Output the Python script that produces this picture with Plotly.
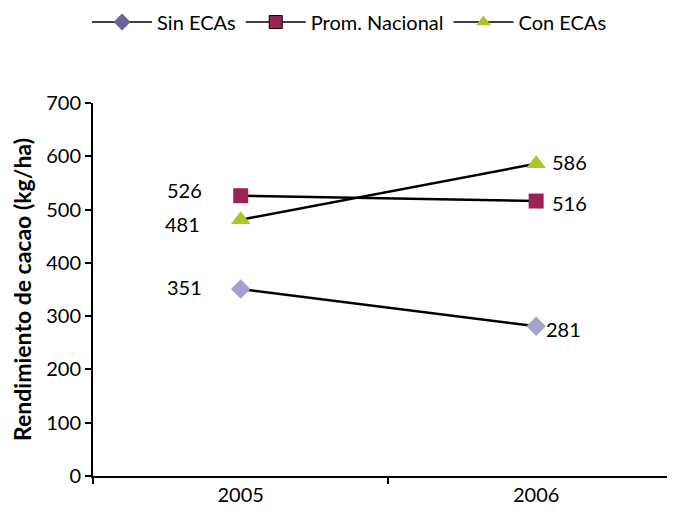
import plotly.graph_objects as go

years = ["2005", "2006"]
sin_ecas = [351, 281]
prom_nacional = [526, 516]
con_ecas = [481, 586]
y_ticks = [0, 100, 200, 300, 400, 500, 600, 700]

FONT = "Lato"

series = [
    ("Sin ECAs", sin_ecas, "diamond", "#A4A1CF", "#6B63A0", 15),
    ("Prom. Nacional", prom_nacional, "square", "#9B2257", "#9B2257", 15),
    ("Con ECAs", con_ecas, "triangle-up", "#A8C828", "#A8C828", 17),
]

fig = go.Figure()
for name, vals, sym, col, legcol, size in series:
    fig.add_trace(go.Scatter(
        x=years, y=vals, mode="lines+markers", name=name, showlegend=False,
        line=dict(color="black", width=2.5),
        marker=dict(symbol=sym, color=col, size=size),
    ))
for name, vals, sym, col, legcol, size in series:
    fig.add_trace(go.Scatter(
        x=[None], y=[None], mode="lines+markers", name=name,
        line=dict(color="black", width=1.5),
        marker=dict(symbol=sym, color=legcol, size=13,
                    line=dict(color="black", width=1) if sym == "square" else dict(width=0)),
    ))

# data labels
offsets = {
    ("Sin ECAs", 0): (-56, 2), ("Sin ECAs", 1): (27, -3),
    ("Prom. Nacional", 0): (-56, 6), ("Prom. Nacional", 1): (33, -2),
    ("Con ECAs", 0): (-58, -4), ("Con ECAs", 1): (33, 2),
}
for name, vals, *_ in series:
    for i, v in enumerate(vals):
        dx, dy = offsets[(name, i)]
        fig.add_annotation(x=i, y=v, xref="x", yref="y", text=str(v), showarrow=False,
                           xshift=dx, yshift=dy,
                           font=dict(family=FONT, size=20, color="black"))

fig.update_layout(
    width=667, height=507,
    margin=dict(l=85, r=0, t=95, b=39, autoexpand=False),
    paper_bgcolor="white", plot_bgcolor="white",
    font=dict(family=FONT, size=20, color="black"),
    showlegend=True,
    legend=dict(orientation="h", x=0.44, xanchor="center", y=1.217, yref="paper",
                yanchor="middle", font=dict(size=20), itemwidth=60,
                tracegroupgap=0),
)
fig.update_xaxes(
    type="category", range=[-0.5, 1.47], tickson="boundaries",
    ticks="outside", ticklen=6, tickwidth=2, tickcolor="black",
    showline=True, linecolor="black", linewidth=2, showgrid=False,
    tickfont=dict(size=20), zeroline=False, automargin=False,
)
fig.update_yaxes(
    range=[0, 700], tickvals=y_ticks, ticks="outside", ticklen=6, tickwidth=2,
    tickcolor="black", showline=True, linecolor="black", linewidth=2,
    showgrid=False, zeroline=False, tickfont=dict(size=20), automargin=False,
    title=dict(text="<b>Rendimiento de cacao (kg/ha)</b>", font=dict(size=23), standoff=10),
)

fig.write_html("out.html")
